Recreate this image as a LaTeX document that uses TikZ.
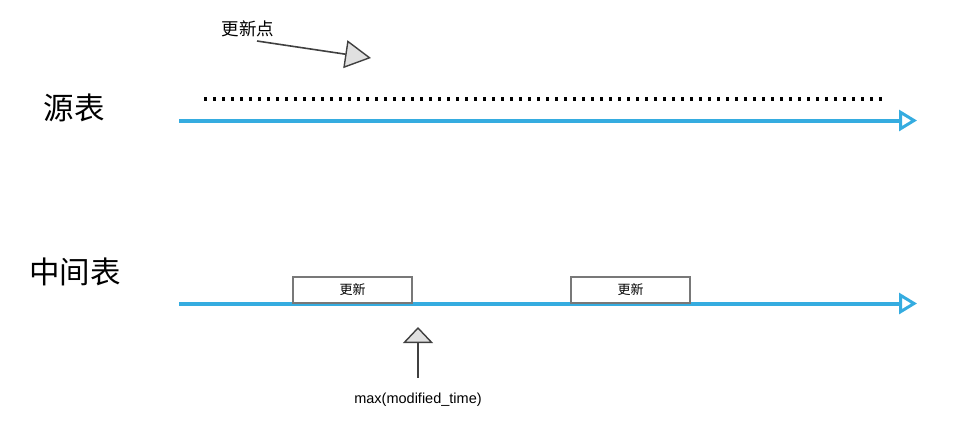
\documentclass[tikz,border=0pt]{standalone}
\usepackage{fontspec}
\setmainfont{Liberation Sans}
\newfontfamily\cjk{Noto Sans CJK SC}
\usetikzlibrary{arrows.meta, positioning}
\definecolor{lineblue}{RGB}{53,172,224}
\definecolor{boxgray}{RGB}{120,120,120}
\tikzset{
    timeline/.style={draw=lineblue, line width=4pt,
        -{Triangle[open, length=18pt, width=21pt, line width=3pt]}},
    marker/.style={draw=black!75, line width=1.6pt},
    updbox/.style={draw=boxgray, line width=1.6pt, fill=white,
        minimum width=119pt, minimum height=26pt, inner sep=0pt, font=\cjk\fontsize{13}{15}\selectfont},
    tablename/.style={font=\cjk\fontsize{30.5}{34}\selectfont}
}

\begin{document}
\begin{tikzpicture}[x=1pt, y=-1pt]
    \useasboundingbox (0,0) rectangle (954,432);
    % source table
    \node[tablename] (src) at (74,108) {源表};
    \coordinate (srcA) at (179,120.5);
    \coordinate (srcB) at (917,120.5);
    \draw[timeline] (srcA) -- (srcB);
    \coordinate (dotA) at (204,99);
    \coordinate (dotB) at (882,99);
    \draw[line width=3.5pt, dash pattern=on 3pt off 6pt] (dotA) -- (dotB);
    \node[font=\cjk\fontsize{17.5}{20}\selectfont] (updpt) at (248,29) {更新点};
    \coordinate (updtail) at (257,41);
    \coordinate (updtip) at (371,58);
    \draw[marker, -{Triangle[fill=black!12, length=26pt, width=28pt, line width=1.4pt]}] (updtail) -- (updtip);

    % middle table
    \node[tablename] (mid) at (75,272) {中间表};
    \coordinate (midA) at (179,303.5);
    \coordinate (midB) at (917,303.5);
    \draw[timeline] (midA) -- (midB);
    \node[updbox] (upd1) at (352.5,290) {更新};
    \node[updbox] (upd2) at (630.5,290) {更新};
    \node[font=\fontsize{14.5}{17}\selectfont] (maxt) at (418,400) {max(modified\_time)};
    \coordinate (maxtip) at (418,327);
    \draw[marker, -{Triangle[fill=black!12, length=16pt, width=30pt, line width=1.4pt]}] (maxt.north) ++(0,-12) -- (maxtip);
\end{tikzpicture}
\end{document}
